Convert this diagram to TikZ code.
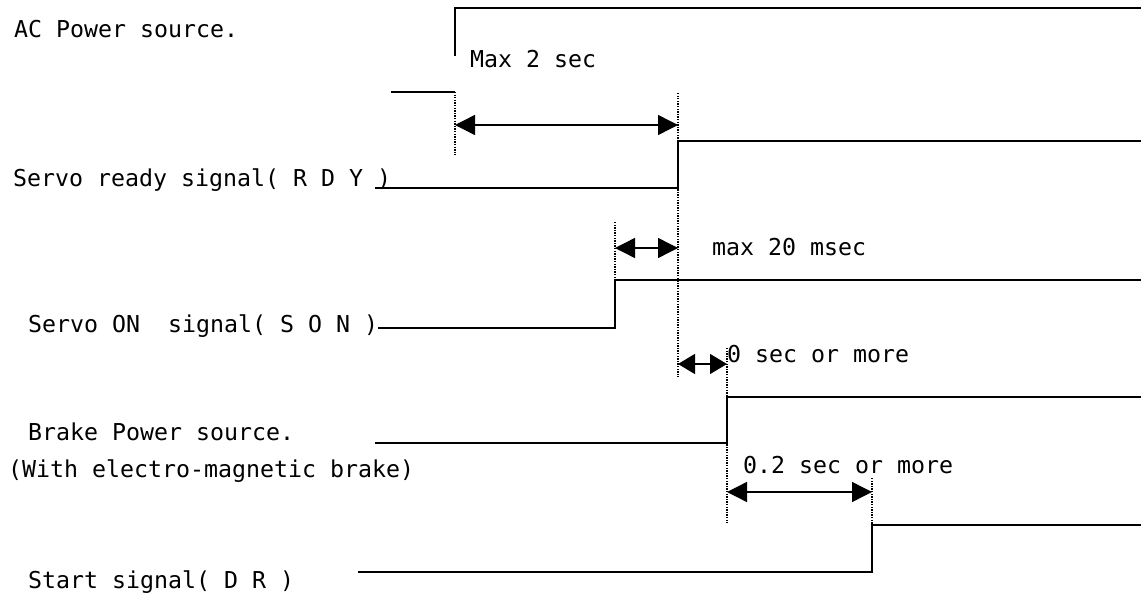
\documentclass[tikz,border=0pt]{standalone}
\usepackage{fontspec}
\newfontfamily\lblfont{DejaVu Sans Mono}
\usetikzlibrary{arrows.meta}
\begin{document}
\begin{tikzpicture}[x=1pt,y=-1pt,
  lbl/.style={inner sep=0pt,anchor=base west,font=\lblfont\fontsize{23.25}{28}\selectfont},
  wave/.style={line width=1.8pt,line join=miter},
  guide/.style={line width=1.3pt,dash pattern=on 1.3pt off 1.3pt},
  span/.style={line width=1.4pt,{Triangle[length=20pt,width=20pt]}-{Triangle[length=20pt,width=20pt]}},
  spanshort/.style={line width=1.4pt,{Triangle[length=17pt,width=20pt]}-{Triangle[length=17pt,width=20pt]}}]
\useasboundingbox (0,0) rectangle (1141,594);
% labels
\node[lbl] (tAC) at (14,38) {AC Power source.};
\node[lbl] (tMax) at (470,68) {Max 2 sec};
\node[lbl] (tRDY) at (13,186) {Servo ready signal( R D Y )};
\node[lbl] (tMs) at (712,255) {max 20 msec};
\node[lbl] (tSON) at (28,332) {Servo ON\ \ signal( S O N )};
\node[lbl] (tZero) at (727,362) {0 sec or more};
\node[lbl] (tBrk) at (28,440) {Brake Power source.};
\node[lbl] (tBrk2) at (8,477) {(With electro-magnetic brake)};
\node[lbl] (tTwo) at (743,473) {0.2 sec or more};
\node[lbl] (tDR) at (28,588) {Start signal( D R )};
% AC power
\coordinate (acL) at (391,92);
\coordinate (acE) at (455,92);
\coordinate (acV) at (455,56);
\coordinate (acT) at (455,8);
\coordinate (acR) at (1141,8);
\draw[wave] (acL) -- (acE);
\draw[wave] (acV) -- (acT) -- (acR);
% RDY
\coordinate (rdyL) at (375,188);
\coordinate (rdyE) at (678,188);
\coordinate (rdyT) at (678,141);
\coordinate (rdyR) at (1141,141);
\draw[wave] (rdyL) -- (rdyE) -- (rdyT) -- (rdyR);
% SON
\coordinate (sonL) at (378,328);
\coordinate (sonE) at (615,328);
\coordinate (sonT) at (615,280);
\coordinate (sonR) at (1141,280);
\draw[wave] (sonL) -- (sonE) -- (sonT) -- (sonR);
% Brake
\coordinate (brkL) at (375,443);
\coordinate (brkE) at (727,443);
\coordinate (brkT) at (727,397);
\coordinate (brkR) at (1141,397);
\draw[wave] (brkL) -- (brkE) -- (brkT) -- (brkR);
% Start
\coordinate (drL) at (358,572);
\coordinate (drE) at (872,572);
\coordinate (drT) at (872,525);
\coordinate (drR) at (1141,525);
\draw[wave] (drL) -- (drE) -- (drT) -- (drR);
% dotted guides
\coordinate (g1b) at (455,155);
\coordinate (g2a) at (678,93);
\coordinate (g2b) at (678,377);
\coordinate (g3a) at (615,222);
\coordinate (g4a) at (727,348);
\coordinate (g4b) at (727,523);
\coordinate (g5a) at (872,478);
\draw[guide] (acE) -- (g1b);
\draw[guide] (g2a) -- (g2b);
\draw[guide] (g3a) -- (sonT);
\draw[guide] (g4a) -- (g4b);
\draw[guide] (g5a) -- (drT);
% spans
\coordinate (a1l) at (455,125);
\coordinate (a1r) at (678,125);
\coordinate (a2l) at (615,248);
\coordinate (a2r) at (678,248);
\coordinate (a3l) at (678,364);
\coordinate (a3r) at (727,364);
\coordinate (a4l) at (727,492);
\coordinate (a4r) at (872,492);
\draw[span] (a1l) -- (a1r);
\draw[span] (a2l) -- (a2r);
\draw[spanshort] (a3l) -- (a3r);
\draw[span] (a4l) -- (a4r);
\end{tikzpicture}
\end{document}
